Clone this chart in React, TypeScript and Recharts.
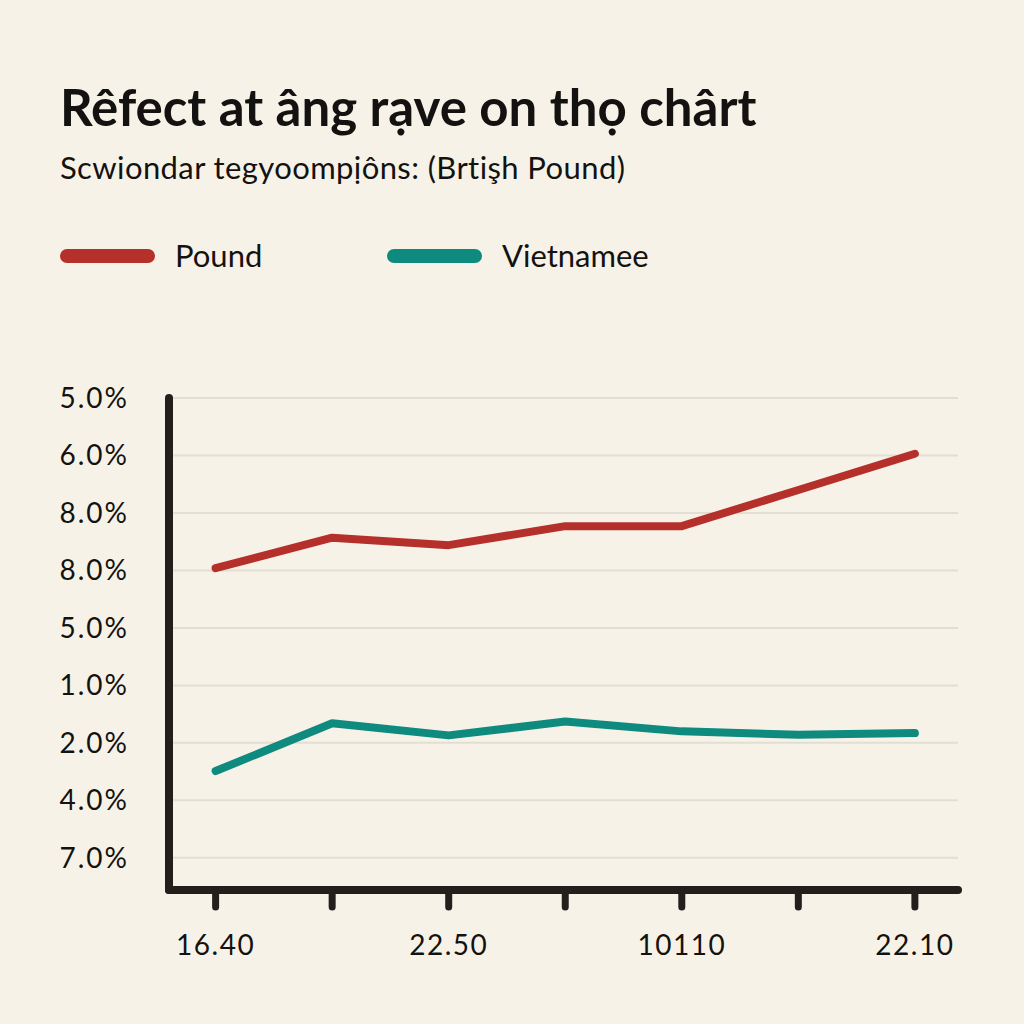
import { CartesianGrid, Line, LineChart, XAxis, YAxis } from "recharts";

const xTicks = [0, 1, 2, 3, 4, 5, 6];
const xLabels = ["16.40", "", "22.50", "", "10110", "", "22.10"];
const yTicks = [0, 1, 2, 3, 4, 5, 6, 7, 8];
const yLabels = ["7.0%", "4.0%", "2.0%", "1.0%", "5.0%", "8.0%", "8.0%", "6.0%", "5.0%"];
const pound = [5.04, 5.57, 5.44, 5.77, 5.77, 6.4, 7.03];
const vietnamese = [1.51, 2.34, 2.13, 2.37, 2.2, 2.14, 2.17];

const data = xTicks.map((x, i) => ({ x, pound: pound[i], vietnamese: vietnamese[i] }));

const BG = "#f7f2e8";
const INK = "#231f1c";
const RED = "#b5302b";
const TEAL = "#0f8a7e";
const FONT = "Lato, 'Open Sans', sans-serif";

export default function App() {
  return (
    <div
      style={{
        position: "absolute",
        left: 0,
        top: 0,
        width: 1024,
        height: 1024,
        background: BG,
        fontFamily: FONT,
        color: "#141210",
        overflow: "hidden",
      }}
    >
      <div style={{ position: "absolute", left: 60, top: 76, fontSize: 51, fontWeight: 700, letterSpacing: 0 }}>
        Rêfect at âng rạve on thọ chârt
      </div>
      <div style={{ position: "absolute", left: 60, top: 148, fontSize: 31, letterSpacing: 0.4 }}>
        Scwiondar tegyoompịôns: (Brtişh Pound)
      </div>

      {/* legend */}
      <div style={{ position: "absolute", left: 60, top: 249, width: 95, height: 14, borderRadius: 7, background: RED }} />
      <div style={{ position: "absolute", left: 175, top: 236, fontSize: 31 }}>Pound</div>
      <div style={{ position: "absolute", left: 387, top: 249, width: 95, height: 14, borderRadius: 7, background: TEAL }} />
      <div style={{ position: "absolute", left: 502, top: 236, fontSize: 31 }}>Vietnamee</div>

      <div style={{ position: "absolute", left: 0, top: 0 }}>
        <LineChart width={1024} height={1024} data={data} margin={{ top: 398, right: 66, bottom: 0, left: 0 }}>
          <CartesianGrid vertical={false} stroke="#e3ded3" strokeWidth={2} />
          <XAxis
            dataKey="x"
            type="number"
            domain={[-0.4, 6.37]}
            ticks={xTicks}
            tickFormatter={(v) => xLabels[v] ?? ""}
            height={134}
            axisLine={{ stroke: INK, strokeWidth: 8, strokeLinecap: "round" }}
            tickLine={{ stroke: INK, strokeWidth: 7, strokeLinecap: "round" }}
            tickSize={17}
            tick={{ fill: "#141210", fontSize: 28, fontFamily: FONT, letterSpacing: 1.5, dy: 26 }}
          />
          <YAxis
            type="number"
            domain={[-0.56, 8]}
            ticks={yTicks}
            tickFormatter={(v) => yLabels[v] ?? ""}
            width={169}
            axisLine={{ stroke: INK, strokeWidth: 8, strokeLinecap: "round" }}
            tickLine={false}
            tickSize={0}
            tickMargin={40}
            tick={{ fill: "#141210", fontSize: 28, fontFamily: FONT, letterSpacing: 2 }}
          />
          <Line
            dataKey="pound"
            stroke={RED}
            strokeWidth={8}
            strokeLinecap="round"
            strokeLinejoin="round"
            dot={false}
            isAnimationActive={false}
          />
          <Line
            dataKey="vietnamese"
            stroke={TEAL}
            strokeWidth={8}
            strokeLinecap="round"
            strokeLinejoin="round"
            dot={false}
            isAnimationActive={false}
          />
        </LineChart>
      </div>
    </div>
  );
}
